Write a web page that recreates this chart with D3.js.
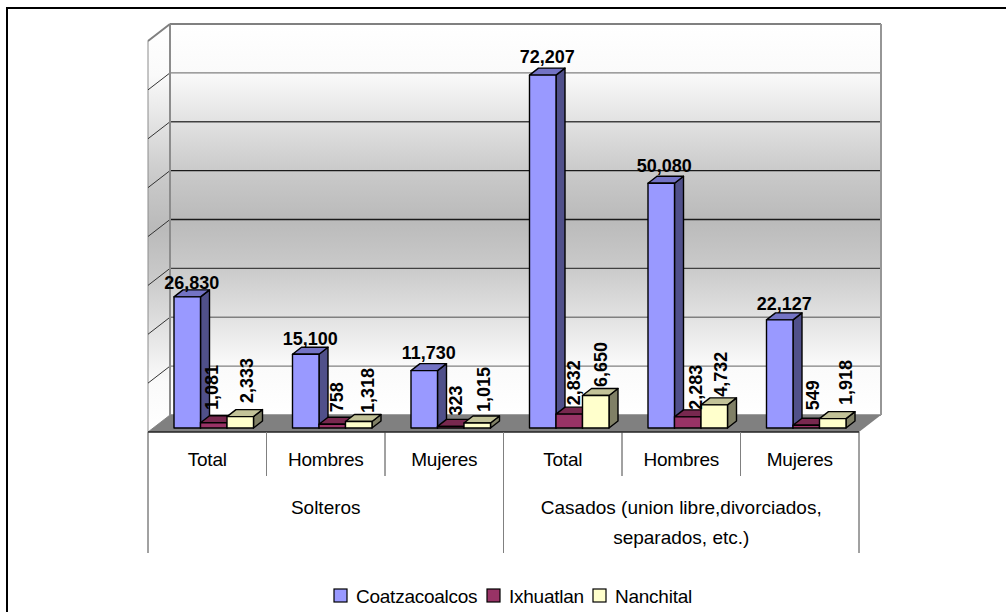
<!DOCTYPE html>
<html>
<head>
<meta charset="utf-8">
<script src="https://cdn.jsdelivr.net/npm/d3@7"></script>
<style>
  html, body { margin: 0; padding: 0; background: #fff; }
  svg { display: block; }
  text { font-family: "Liberation Sans", Arial, sans-serif; fill: #000; }
</style>
</head>
<body>
<div id="chart"></div>
<script>
// Population by marital status and municipality
const categories = ["Total", "Hombres", "Mujeres", "Total", "Hombres", "Mujeres"];
const seriesNames = ["Coatzacoalcos", "Ixhuatlan", "Nanchital"];
const coatzacoalcos = [26830, 15100, 11730, 72207, 50080, 22127];
const ixhuatlan = [1081, 758, 323, 2832, 2283, 549];
const nanchital = [2333, 1318, 1015, 6650, 4732, 1918];
const groupLabels = [
  { lines: ["Solteros"], span: [0, 3] },
  { lines: ["Casados (union libre,divorciados,", "separados, etc.)"], span: [3, 6] }
];
const gridTicks = [0, 10000, 20000, 30000, 40000, 50000, 60000, 70000, 80000];

const seriesValues = [coatzacoalcos, ixhuatlan, nanchital];
const palette = [
  { front: "#9999ff", top: "#7373c4", side: "#50508a" },
  { front: "#993366", top: "#78284f", side: "#5a1e3c" },
  { front: "#ffffcc", top: "#c2c298", side: "#808066" }
];
const gridColors = ["#a0a0a0", "#808080", "#808080", "#404040", "#1a1a1a", "#1a1a1a", "#404040", "#808080", "#808080"];

// Hand placement of the value labels, so they clear one another
const labelShiftX = [
  [0, 0, 0, 0, -1.5, 0],
  [-6.5, 0, 0, 0, 3, 2],
  [2, 4, 2, 0, 2, 8]
];
const labelShiftY = [
  [2, 1, -2, -2, -1, 0],
  [-5.7, -5, -4, -2, 0, -8],
  [-6.6, -1.6, -4, -1.5, -1, -6.6]
];

const width = 1006, height = 612;
const wallDX = 22, wallDY = -17;   // offset of the back wall from the front of the floor
const barDX = 9, barDY = -7;       // depth of each bar
const floorFront = 432;

const svg = d3.select("#chart").append("svg").attr("width", width).attr("height", height);

// Scales: y is anchored on the plane of the bars' front faces
const y = d3.scaleLinear().domain([0, 80000]).range([428, 37]);
const x0 = d3.scaleBand().domain(d3.range(categories.length)).range([148, 859]);
const x1 = d3.scaleBand().domain(d3.range(seriesNames.length)).range([26, 105.5]);
const wallY = v => y(v) - 13;
const wallLeft = x0.range()[0] + wallDX, wallRight = x0.range()[1] + wallDX;

// Sheet frame (top and left edges only)
svg.append("path").attr("d", "M7,612V8H1006").attr("fill", "none").attr("stroke", "#000").attr("stroke-width", 2);

// Wall shading: white at top and bottom, grey in the middle
const grad = svg.append("defs").append("linearGradient")
  .attr("id", "wall").attr("x1", 0).attr("y1", 0).attr("x2", 0).attr("y2", 1);
[[0, "#ffffff"], [0.125, "#fafafa"], [0.25, "#e2e2e2"], [0.375, "#cacaca"], [0.5, "#bababa"],
 [0.625, "#cacaca"], [0.75, "#e2e2e2"], [0.875, "#fafafa"], [1, "#ffffff"]].forEach(([o, c]) =>
  grad.append("stop").attr("offset", o).attr("stop-color", c));

// Back wall
svg.append("rect")
  .attr("x", wallLeft).attr("y", wallY(80000))
  .attr("width", wallRight - wallLeft).attr("height", wallY(0) - wallY(80000))
  .attr("fill", "url(#wall)");

// Side wall
svg.append("path")
  .attr("d", `M${wallLeft - wallDX},${wallY(80000) - wallDY}L${wallLeft},${wallY(80000)}L${wallLeft},${wallY(0)}L${wallLeft - wallDX},${wallY(0) - wallDY}Z`)
  .attr("fill", "url(#wall)")
  .attr("stroke", "#8c8c8c").attr("stroke-width", 1);

// Gridlines on both walls
const grid = svg.append("g");
gridTicks.forEach((t, i) => {
  grid.append("line")
    .attr("x1", wallLeft).attr("x2", wallRight)
    .attr("y1", wallY(t)).attr("y2", wallY(t))
    .attr("stroke", gridColors[i]).attr("stroke-width", i === 0 || i === gridTicks.length - 1 ? 2 : 1.3);
  if (i > 0 && i < gridTicks.length - 1) {
    grid.append("line")
      .attr("x1", wallLeft).attr("x2", wallLeft - wallDX)
      .attr("y1", wallY(t)).attr("y2", wallY(t) - wallDY)
      .attr("stroke", "#333").attr("stroke-width", 1);
  }
});
svg.append("line").attr("x1", wallLeft).attr("x2", wallLeft)
  .attr("y1", wallY(80000)).attr("y2", wallY(0)).attr("stroke", "#8c8c8c").attr("stroke-width", 2);
svg.append("line").attr("x1", wallRight).attr("x2", wallRight)
  .attr("y1", wallY(80000)).attr("y2", wallY(0)).attr("stroke", "#969696").attr("stroke-width", 2);
svg.append("path")
  .attr("d", `M${wallLeft - wallDX},${wallY(80000) - wallDY}L${wallLeft},${wallY(80000)}`)
  .attr("stroke", "#808080").attr("stroke-width", 2).attr("fill", "none");

// Floor
svg.append("path")
  .attr("d", `M${wallLeft},${wallY(0)}L${wallRight},${wallY(0)}L${wallRight - wallDX},${floorFront}L${wallLeft - wallDX},${floorFront}Z`)
  .attr("fill", "#808080");

// Bars, drawn left to right so each one overlaps its neighbour's side face
const bars = svg.append("g").attr("stroke", "#000").attr("stroke-width", 1.4).attr("stroke-linejoin", "round");
categories.forEach((_, c) => {
  seriesValues.forEach((vals, s) => {
    const x = x0(c) + x1(s), w = x1.bandwidth(), t = y(vals[c]), b = y(0);
    const col = palette[s];
    bars.append("path").attr("fill", col.side)
      .attr("d", `M${x + w},${t}L${x + w + barDX},${t + barDY}L${x + w + barDX},${b + barDY}L${x + w},${b}Z`);
    bars.append("path").attr("fill", col.top)
      .attr("d", `M${x},${t}L${x + barDX},${t + barDY}L${x + w + barDX},${t + barDY}L${x + w},${t}Z`);
    bars.append("rect").attr("fill", col.front)
      .attr("x", x).attr("y", t).attr("width", w).attr("height", b - t);
  });
});

// Value labels: the main series reads horizontally, the others vertically
const labels = svg.append("g").attr("font-size", 18).attr("font-weight", "bold");
const fmt = d3.format(",");
categories.forEach((_, c) => {
  seriesValues.forEach((vals, s) => {
    const cx = x0(c) + x1(s) + x1.bandwidth() / 2 + barDX / 2 + labelShiftX[s][c];
    const t = y(vals[c]);
    if (s === 0) {
      labels.append("text").attr("x", cx).attr("y", t - 10 + labelShiftY[s][c])
        .attr("text-anchor", "middle").text(fmt(vals[c]));
    } else {
      labels.append("text")
        .attr("transform", `translate(${cx + 6.5},${t + barDY + labelShiftY[s][c]}) rotate(-90)`)
        .text(fmt(vals[c]));
    }
  });
});

// Multi-level category table under the floor
const table = svg.append("g");
table.append("line").attr("x1", x0.range()[0]).attr("x2", x0.range()[1])
  .attr("y1", floorFront).attr("y2", floorFront).attr("stroke", "#222").attr("stroke-width", 1.5);
const boundaries = d3.range(categories.length + 1);
boundaries.forEach(i => {
  const xp = x0.range()[0] + i * x0.step();
  const major = i % 3 === 0;
  table.append("line").attr("x1", xp).attr("x2", xp)
    .attr("y1", floorFront).attr("y2", major ? 553 : 476)
    .attr("stroke", i % 2 ? "#808080" : "#444").attr("stroke-width", 1);
});
categories.forEach((name, c) => {
  table.append("text").attr("x", x0(c) + x0.bandwidth() / 2).attr("y", 466)
    .attr("text-anchor", "middle").attr("font-size", 19).attr("letter-spacing", -0.2).text(name);
});
groupLabels.forEach(g => {
  const cx = x0.range()[0] + (g.span[0] + g.span[1]) / 2 * x0.step();
  g.lines.forEach((line, i) => {
    table.append("text").attr("x", cx).attr("y", 514 + i * 30)
      .attr("text-anchor", "middle").attr("font-size", 19).text(line);
  });
});

// Legend
const legendSwatchX = [334, 487, 593];
const legend = svg.append("g");
seriesNames.forEach((name, s) => {
  legend.append("rect").attr("x", legendSwatchX[s]).attr("y", 589).attr("width", 13).attr("height", 13)
    .attr("fill", palette[s].front).attr("stroke", "#000").attr("stroke-width", 1.2);
  legend.append("text").attr("x", legendSwatchX[s] + 22).attr("y", 602.5)
    .attr("font-size", 19).attr("letter-spacing", -0.25).text(name);
});
</script>
</body>
</html>
